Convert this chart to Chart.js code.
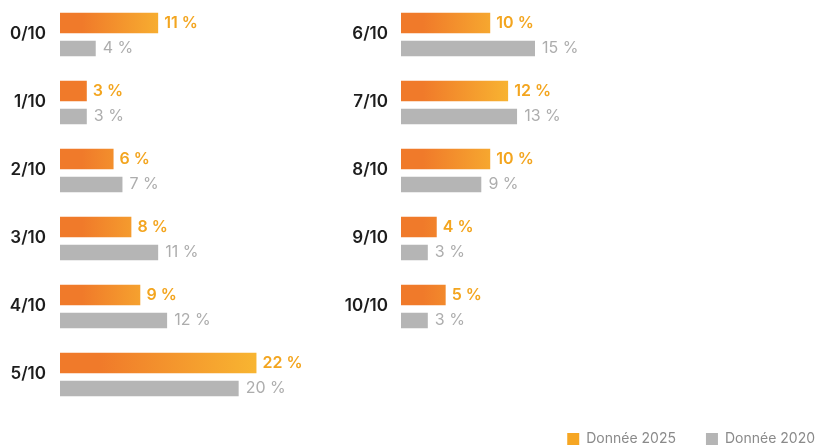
<!DOCTYPE html>
<html>
<head>
<meta charset="utf-8">
<script src="https://cdn.jsdelivr.net/npm/chart.js@4/dist/chart.umd.min.js"></script>
<style>
  html, body { margin: 0; padding: 0; background: #fff; overflow: hidden; width: 820px; height: 447px; }
  #left { position: absolute; left: 0; top: 0; }
  #right { position: absolute; left: 340px; top: 0; }
</style>
</head>
<body>
<canvas id="left" width="340" height="447"></canvas>
<canvas id="right" width="505" height="456"></canvas>
<script>
// notes / 10
const leftLabels = ['0/10', '1/10', '2/10', '3/10', '4/10', '5/10'];
const left2025 = [11, 3, 6, 8, 9, 22];
const left2020 = [4, 3, 7, 11, 12, 20];

const rightLabels = ['6/10', '7/10', '8/10', '9/10', '10/10'];
const right2025 = [10, 12, 10, 4, 5];
const right2020 = [15, 13, 9, 3, 3];

const seriesNames = ['Donnée 2025', 'Donnée 2020'];

const FONT = 'Inter';
const orangeStart = '#f07a2a';
const orangeEnd = '#f8b531';
const grey = '#b5b5b5';

function orangeFill(c){
    const chart = c.chart;
    const x = chart.scales.x;
    if(!x || c.raw == null) return orangeStart;
    const x0 = x.getPixelForValue(0);
    const x1 = x.getPixelForValue(c.raw);
    if(!isFinite(x0) || !isFinite(x1)) return orangeStart;
    const len = Math.max(x1 - x0, 110);
    const g = chart.ctx.createLinearGradient(x0, 0, x0 + len, 0);
    g.addColorStop(0, orangeStart);
    g.addColorStop(0.2, orangeStart);
    g.addColorStop(1, orangeEnd);
    return g;
}

// value labels next to the bars
const valueLabels = {
    id: 'valueLabels',
    afterDatasetsDraw(chart){
        const ctx = chart.ctx;
        ctx.save();
        ctx.textBaseline = 'middle';
        ctx.textAlign = 'left';
        chart.data.datasets.forEach((ds, di) => {
            const meta = chart.getDatasetMeta(di);
            meta.data.forEach((bar, i) => {
                const v = ds.data[i];
                if(v == null) return;
                if(di === 0){
                    ctx.font = '600 16px ' + FONT;
                    ctx.fillStyle = '#f3a51f';
                    ctx.fillText(v + ' %', bar.x + 6, bar.y);
                } else {
                    ctx.font = '400 16px ' + FONT;
                    ctx.fillStyle = '#adadad';
                    ctx.fillText(v + ' %', bar.x + 7, bar.y);
                }
            });
        });
        ctx.restore();
    }
};

function makeDatasets(a, b){
    return [{
        label: seriesNames[0],
        data: a,
        backgroundColor: orangeFill,
        borderColor: 'rgba(0,0,0,0)',
        borderWidth: {top: 4, bottom: 4, left: 0, right: 0},
        borderRadius: 2,
        borderSkipped: false,
        barThickness: 28
    }, {
        label: seriesNames[1],
        data: b,
        backgroundColor: grey,
        borderColor: 'rgba(0,0,0,0)',
        borderWidth: {top: 4, bottom: 4, left: 0, right: 0},
        borderRadius: 2,
        borderSkipped: false,
        barThickness: 23
    }];
}

function barChart(id, labels, a, b, xMax, axisWidth, tickPad, withLegend){
    const config = {
        type: 'bar',
        data: { labels: labels, datasets: makeDatasets(a, b) },
        options: {
            indexAxis: 'y',
            responsive: false,
            animation: false,
            layout: {
                padding: withLegend ? {top: 3, right: 0, bottom: 0, left: 0}
                                    : {top: 3, right: 12, bottom: 36, left: 0}
            },
            scales: {
                x: {
                    min: 0, max: xMax,
                    display: withLegend ? true : false,
                    grid: {display: false},
                    border: {display: false},
                    ticks: {display: false},
                    afterFit: s => { s.height = withLegend ? 59 : 0; }
                },
                y: {
                    grid: {display: false, drawTicks: false},
                    border: {display: false},
                    ticks: {
                        padding: tickPad,
                        labelOffset: -3,
                        color: '#1d1d1d',
                        font: {family: FONT, size: 17, weight: '600'}
                    },
                    afterFit: s => {
                        s.width = axisWidth;
                        s.paddingTop = 0;
                        s.paddingBottom = 0;
                    }
                }
            },
            plugins: {
                tooltip: {enabled: false},
                legend: withLegend ? {
                    display: true,
                    position: 'bottom',
                    align: 'end',
                    labels: {
                        boxWidth: 12,
                        boxHeight: 12,
                        padding: 30,
                        color: '#8a8a8a',
                        font: {family: FONT, size: 14},
                        generateLabels: () => [
                            {text: seriesNames[0], fillStyle: '#f6a623', strokeStyle: '#f6a623', lineWidth: 0, fontColor: '#8a8a8a'},
                            {text: seriesNames[1], fillStyle: grey, strokeStyle: grey, lineWidth: 0, fontColor: '#8a8a8a'}
                        ]
                    }
                } : {display: false}
            }
        },
        plugins: [valueLabels]
    };
    let c = document.getElementById(id).getContext('2d');
    return new Chart(c, config);
}

barChart('left', leftLabels, left2025, left2020, 30, 60, 14, false);
barChart('right', rightLabels, right2025, right2020, 49.7, 61, 13, true);
</script>
</body>
</html>
